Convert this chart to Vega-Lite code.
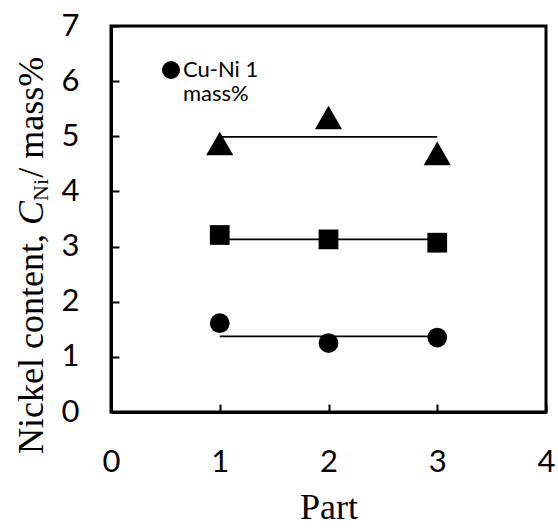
{
  "$schema": "https://vega.github.io/schema/vega-lite/v6.json",
  "width": 435,
  "height": 386,
  "autosize": {"type": "none"},
  "padding": {"left": 111, "top": 26, "right": 12, "bottom": 116},
  "background": "white",
  "config": {"view": {"stroke": "black", "strokeWidth": 3}},
  "datasets": {
    "points": [
      {"series": "Cu-Ni 1 mass%", "part": 1, "value": 1.61},
      {"series": "Cu-Ni 1 mass%", "part": 2, "value": 1.25},
      {"series": "Cu-Ni 1 mass%", "part": 3, "value": 1.35},
      {"series": "Cu-Ni 3 mass%", "part": 1, "value": 3.21},
      {"series": "Cu-Ni 3 mass%", "part": 2, "value": 3.13},
      {"series": "Cu-Ni 3 mass%", "part": 3, "value": 3.07},
      {"series": "Cu-Ni 5 mass%", "part": 1, "value": 4.87},
      {"series": "Cu-Ni 5 mass%", "part": 2, "value": 5.34},
      {"series": "Cu-Ni 5 mass%", "part": 3, "value": 4.69}
    ],
    "fits": [
      {"series": "Cu-Ni 1 mass%", "part": 1, "value": 1.37},
      {"series": "Cu-Ni 1 mass%", "part": 3, "value": 1.37},
      {"series": "Cu-Ni 3 mass%", "part": 1, "value": 3.13},
      {"series": "Cu-Ni 3 mass%", "part": 3, "value": 3.13},
      {"series": "Cu-Ni 5 mass%", "part": 1, "value": 4.99},
      {"series": "Cu-Ni 5 mass%", "part": 3, "value": 4.99}
    ],
    "one": [{}]
  },
  "layer": [
    {
      "data": {"name": "fits"},
      "mark": {"type": "line", "color": "black", "strokeWidth": 1.8},
      "encoding": {
        "x": {
          "field": "part", "type": "quantitative",
          "scale": {"domain": [0, 4], "nice": false, "zero": false},
          "axis": {
            "values": [0, 1, 2, 3, 4], "format": "d",
            "title": "Part", "titleFont": "Liberation Serif", "titleFontSize": 36,
            "titleFontWeight": "normal", "titleColor": "black",
            "titleBaseline": "alphabetic", "titleY": 106,
            "labelFont": "Lato", "labelFontSize": 31, "labelColor": "black",
            "labelPadding": 43, "labelFlush": false,
            "tickSize": -8, "tickWidth": 2, "tickColor": "black",
            "domainColor": "black", "domainWidth": 3, "grid": false
          }
        },
        "y": {
          "field": "value", "type": "quantitative",
          "scale": {"domain": [0, 7], "nice": false, "zero": false},
          "axis": {
            "values": [0, 0.5, 1, 1.5, 2, 2.5, 3, 3.5, 4, 4.5, 5, 5.5, 6, 6.5, 7],
            "labelExpr": "datum.value % 1 === 0 ? format(datum.value, 'd') : ''",
            "title": null,
            "labelFont": "Lato", "labelFontSize": 31, "labelColor": "black",
            "labelPadding": 40, "labelFlush": false,
            "tickSize": -8, "tickWidth": 2, "tickColor": "black",
            "domainColor": "black", "domainWidth": 3, "grid": false
          }
        },
        "detail": {"field": "series"}
      }
    },
    {
      "data": {"name": "points"},
      "transform": [{"filter": "datum.series !== 'Cu-Ni 5 mass%'"}],
      "mark": {"type": "point", "filled": true, "opacity": 1, "color": "black", "strokeWidth": 0, "size": 390},
      "encoding": {
        "x": {"field": "part", "type": "quantitative"},
        "y": {"field": "value", "type": "quantitative"},
        "shape": {
          "field": "series", "type": "nominal",
          "scale": {"domain": ["Cu-Ni 1 mass%", "Cu-Ni 3 mass%", "Cu-Ni 5 mass%"], "range": ["circle", "square", "triangle-up"]},
          "legend": {
            "values": ["Cu-Ni 1 mass%"], "orient": "none", "legendX": 49, "legendY": 33,
            "title": null, "padding": 0,
            "labelExpr": "['Cu-Ni 1', 'mass%']",
            "labelFont": "Lato", "labelFontSize": 22, "labelColor": "black",
            "labelBaseline": "middle", "labelLimit": 0, "labelOffset": 1,
            "symbolSize": 324, "symbolType": "circle", "symbolFillColor": "black",
            "symbolStrokeColor": "black", "symbolStrokeWidth": 0, "symbolOpacity": 1,
            "encode": {"labels": {"update": {"lineHeight": {"value": 31}}}}
          }
        }
      }
    },
    {
      "data": {"name": "points"},
      "transform": [{"filter": "datum.series === 'Cu-Ni 5 mass%'"}],
      "mark": {"type": "point", "filled": true, "opacity": 1, "color": "black", "strokeWidth": 0, "size": 740},
      "encoding": {
        "x": {"field": "part", "type": "quantitative"},
        "y": {"field": "value", "type": "quantitative"},
        "shape": {"field": "series", "type": "nominal"}
      }
    },
    {
      "data": {"name": "one"},
      "mark": {"type": "text", "angle": 270, "align": "left", "baseline": "alphabetic", "font": "Liberation Serif", "fontSize": 36, "color": "black"},
      "encoding": {
        "x": {"datum": -0.625, "type": "quantitative"},
        "y": {"datum": -0.762, "type": "quantitative"},
        "text": {"value": "Nickel content, "}
      }
    },
    {
      "data": {"name": "one"},
      "mark": {"type": "text", "angle": 270, "align": "left", "baseline": "alphabetic", "font": "Liberation Serif", "fontSize": 36, "fontStyle": "italic", "color": "black"},
      "encoding": {
        "x": {"datum": -0.625, "type": "quantitative"},
        "y": {"datum": 3.391, "type": "quantitative"},
        "text": {"value": "C"}
      }
    },
    {
      "data": {"name": "one"},
      "mark": {"type": "text", "angle": 270, "align": "left", "baseline": "alphabetic", "font": "Liberation Serif", "fontSize": 22, "color": "black"},
      "encoding": {
        "x": {"datum": -0.579, "type": "quantitative"},
        "y": {"datum": 3.827, "type": "quantitative"},
        "text": {"value": "Ni"}
      }
    },
    {
      "data": {"name": "one"},
      "mark": {"type": "text", "angle": 270, "align": "left", "baseline": "alphabetic", "font": "Liberation Serif", "fontSize": 36, "color": "black"},
      "encoding": {
        "x": {"datum": -0.625, "type": "quantitative"},
        "y": {"datum": 4.25, "type": "quantitative"},
        "text": {"value": " / mass%"}
      }
    }
  ]
}
